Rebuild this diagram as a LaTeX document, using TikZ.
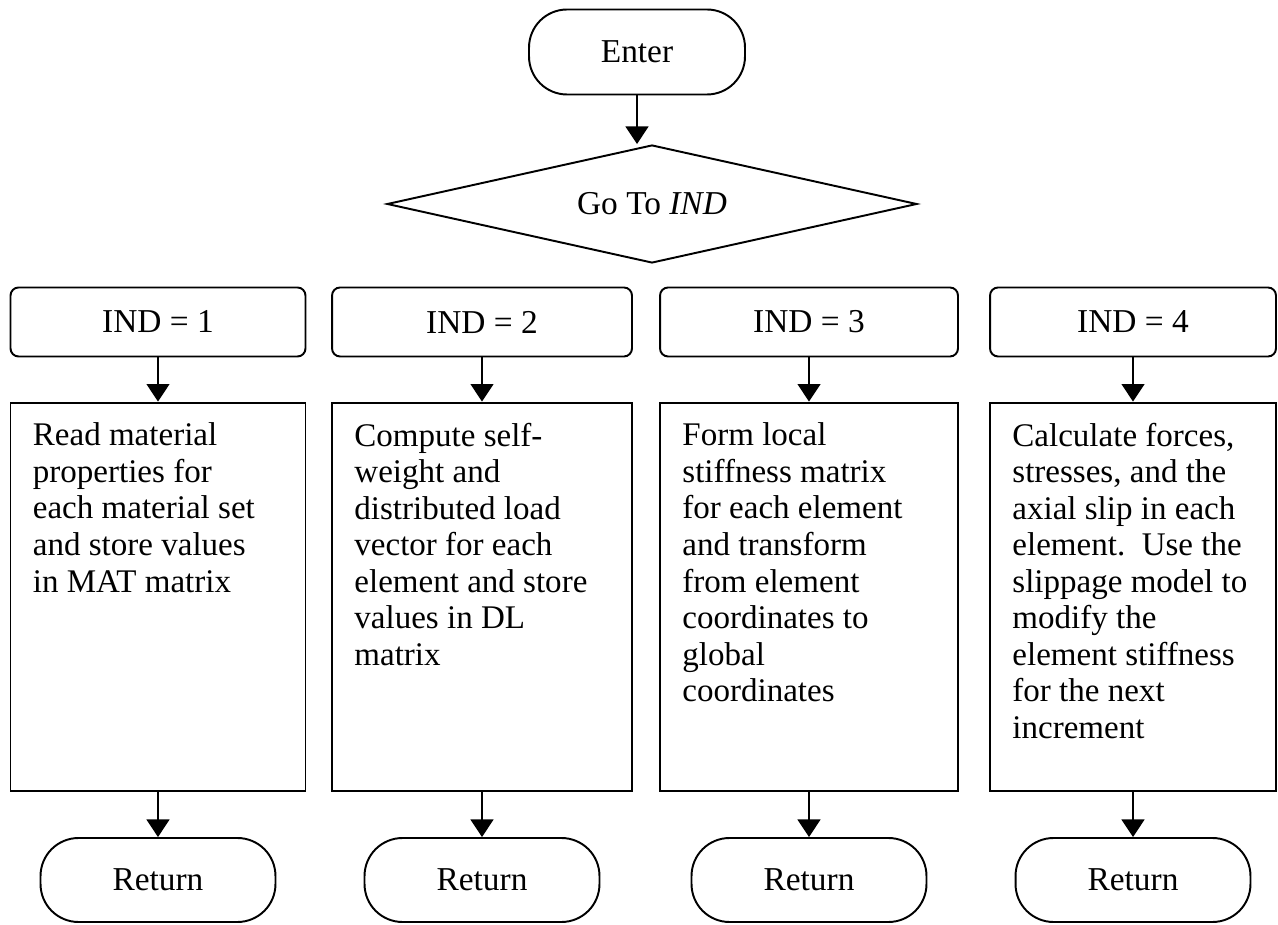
\documentclass[tikz,border=0pt]{standalone}
\usepackage{fontspec}
\setmainfont{Liberation Serif}
\usetikzlibrary{shapes.geometric,arrows.meta}

\begin{document}
\begin{tikzpicture}[x=0.02cm,y=-0.02cm,
    term/.style={draw, line width=1.1pt, rounded corners=0.76cm, minimum width=4.7cm, minimum height=1.68cm, font=\fontsize{19}{23}\selectfont},
    indbox/.style={draw, line width=1.1pt, rounded corners=0.16cm, minimum height=1.38cm, font=\fontsize{19}{23}\selectfont},
    workbox/.style={draw, line width=1.1pt, minimum height=7.78cm},
    worktext/.style={anchor=north west, inner sep=0pt, align=left, font=\fontsize{18.8}{20.8}\selectfont},
    arr/.style={line width=1.1pt, -{Triangle[length=10pt,width=13pt]}}]
\useasboundingbox (0,0) rectangle (1278,925);
\node[term, minimum width=4.32cm, minimum height=1.7cm] (enter) at (637,52) {Enter};
\node[draw, diamond, line width=1.1pt, inner sep=0pt, aspect=4.5, minimum width=10.6cm, minimum height=2.36cm,
      font=\fontsize{19}{23}\selectfont] (go) at (652,204) {Go To \textit{IND}};
\draw[arr] (enter.south) -- (enter.south |- go.north);
\foreach \i/\cx/\w in {1/158/5.9, 2/482/6.0, 3/809/5.96, 4/1133/5.72} {
    \node[indbox, minimum width=\w cm] (ind\i) at (\cx,322) {IND = \i};
    \node[workbox, minimum width=\w cm] (work\i) at (\cx,597) {};
    \node[term] (ret\i) at (\cx,880) {Return};
    \draw[arr] (ind\i) -- (work\i);
    \draw[arr] (work\i) -- (ret\i);
}
\node[worktext] (txt1) at ([shift={(23,21)}]work1.north west)
    {Read material\\properties for\\each material set\\and store values\\in MAT matrix};
\node[worktext] (txt2) at ([shift={(23,21)}]work2.north west)
    {Compute self-\\weight and\\distributed load\\vector for each\\element and store\\values in DL\\matrix};
\node[worktext] (txt3) at ([shift={(23,21)}]work3.north west)
    {Form local\\stiffness matrix\\for each element\\and transform\\from element\\coordinates to\\global\\coordinates};
\node[worktext] (txt4) at ([shift={(23,21)}]work4.north west)
    {Calculate forces,\\stresses, and the\\axial slip in each\\element.\ \ Use the\\slippage model to\\modify the\\element stiffness\\for the next\\increment};
\end{tikzpicture}
\end{document}
